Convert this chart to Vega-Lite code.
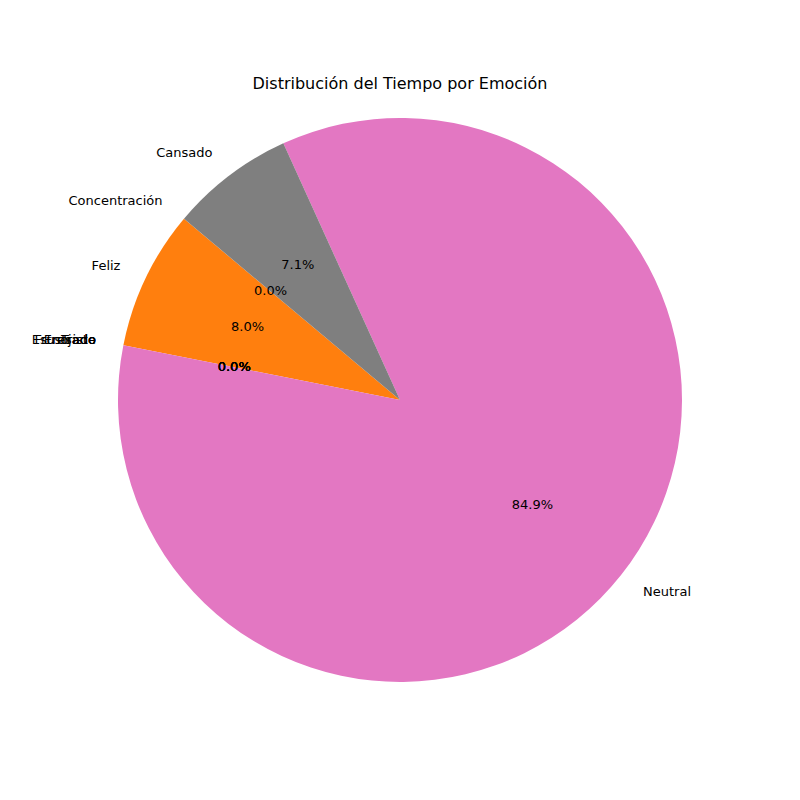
{
"$schema":"https://vega.github.io/schema/vega-lite/v6.json",
"width":800,"height":800,"autosize":"none","padding":0,
"background":"white",
"config":{"view":{"stroke":null},"font":"DejaVu Sans"},
"title":{"text":"Distribución del Tiempo por Emoción","offset":-92,"fontSize":16,"fontWeight":"normal","font":"DejaVu Sans","color":"black"},
"data":{"values":[
{"emocion":"Concentración","valor":0,"orden":0},
{"emocion":"Feliz","valor":8.0,"orden":1},
{"emocion":"Frustrado","valor":0,"orden":2},
{"emocion":"Enojado","valor":0,"orden":3},
{"emocion":"Estresado","valor":0,"orden":4},
{"emocion":"Triste","valor":0,"orden":5},
{"emocion":"Neutral","valor":84.9,"orden":6},
{"emocion":"Cansado","valor":7.1,"orden":7}
]},
"transform":[
{"calculate":"format(datum.valor,'.1f')+'%'","as":"pct"},
{"calculate":"datum.emocion=='Neutral' ? '' : datum.emocion","as":"izq"},
{"calculate":"datum.emocion=='Neutral' ? datum.emocion : ''","as":"der"}
],
"encoding":{
"theta":{"field":"valor","type":"quantitative","stack":true,"scale":{"range":[-7.1558,-0.8727]}},
"order":{"field":"orden","sort":"descending"},
"color":{"field":"emocion","type":"nominal","legend":null,"scale":{
"domain":["Concentración","Feliz","Frustrado","Enojado","Estresado","Triste","Neutral","Cansado"],
"range":["#1f77b4","#ff7f0e","#2ca02c","#d62728","#9467bd","#8c564b","#e377c2","#7f7f7f"]}}
},
"layer":[
{"mark":{"type":"arc","radius":282}},
{"mark":{"type":"text","radius":169,"fontSize":13,"color":"black"},"encoding":{"text":{"field":"pct"},"color":{"value":"black"}}},
{"mark":{"type":"text","radius":310,"fontSize":13,"align":"right","color":"black"},"encoding":{"text":{"field":"izq"},"color":{"value":"black"}}},
{"mark":{"type":"text","radius":310,"fontSize":13,"align":"left","color":"black"},"encoding":{"text":{"field":"der"},"color":{"value":"black"}}}
]
}
